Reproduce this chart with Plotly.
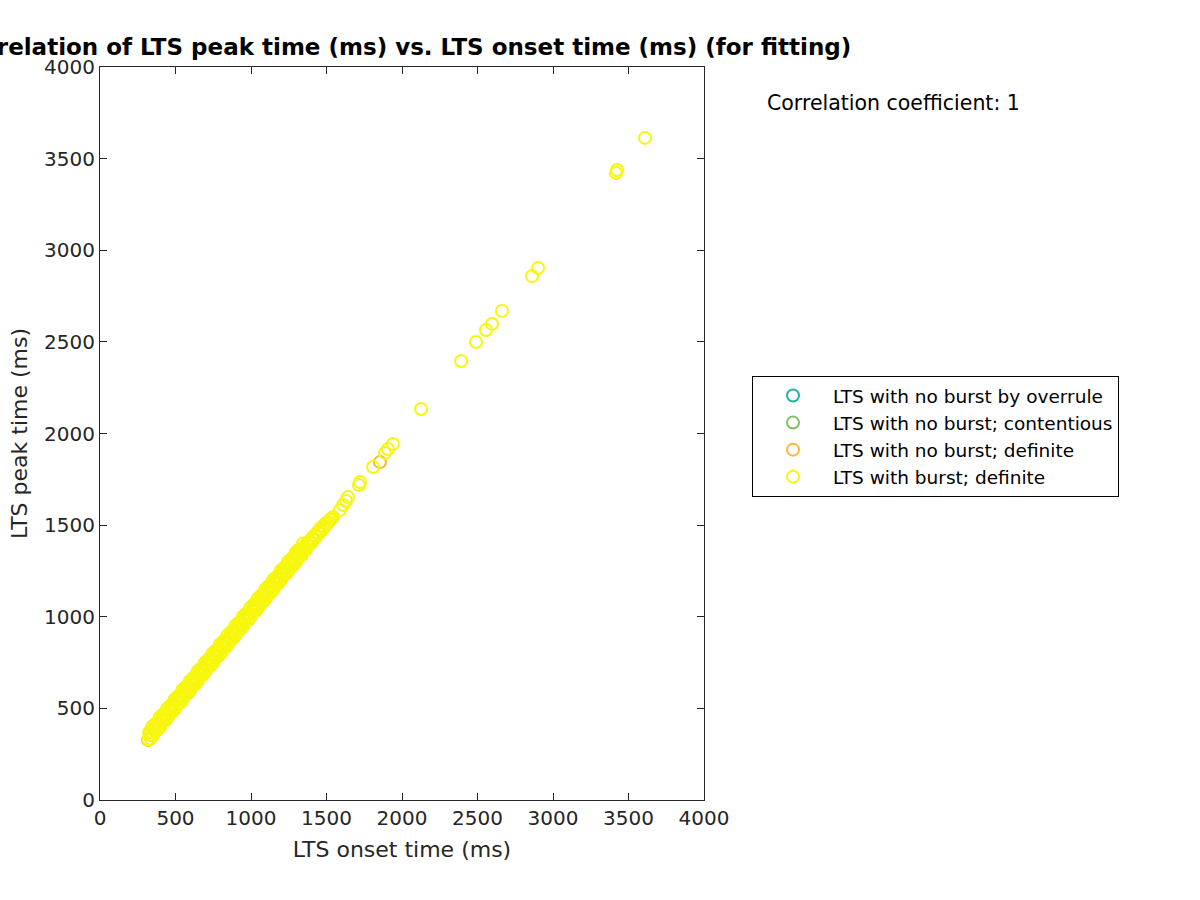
import plotly.graph_objects as go

# ---- data (dense band values are estimates) ----
burst_onset = [
    320, 325, 330, 335, 340, 345,
    350, 355, 360, 365, 370, 375, 380, 385, 390, 395,
    400, 405, 410, 415, 420, 425, 430, 435, 440, 445,
    450, 455, 460, 465, 470, 475, 480, 485, 490, 495,
    500, 505, 510, 515, 520, 525, 530, 535, 540, 545,
    550, 555, 560, 565, 570, 575, 580, 585, 590, 595,
    600, 605, 610, 615, 620, 625, 630, 635, 640, 645,
    650, 655, 660, 665, 670, 675, 680, 685, 690, 695,
    700, 705, 710, 715, 720, 725, 730, 735, 740, 745,
    750, 755, 760, 765, 770, 775, 780, 785, 790, 795,
    800, 805, 810, 815, 820, 825, 830, 835, 840, 845,
    850, 855, 860, 865, 870, 875, 880, 885, 890, 895,
    900, 905, 910, 915, 920, 925, 930, 935, 940, 945,
    950, 955, 960, 965, 970, 975, 980, 985, 990, 995,
    1000, 1005, 1010, 1015, 1020, 1025, 1030, 1035, 1040, 1045,
    1050, 1055, 1060, 1065, 1070, 1075, 1080, 1085, 1090, 1095,
    1100, 1105, 1110, 1115, 1120, 1125, 1130, 1135, 1140, 1145,
    1150, 1155, 1160, 1165, 1170, 1175, 1180, 1185, 1190, 1195,
    1200, 1205, 1210, 1215, 1220, 1225, 1230, 1235, 1240, 1245,
    1250, 1255, 1260, 1265, 1270, 1275, 1280, 1285, 1290, 1295,
    1300, 1305, 1310, 1315, 1320, 1325, 1330, 1335, 1340, 1345,
    1352, 1361, 1370, 1378, 1387, 1396, 1404, 1413, 1422, 1431, 1440,
    1449, 1458, 1467, 1476, 1486, 1495, 1504, 1513, 1522, 1531, 1543,
    1589, 1609, 1629, 1642, 1715, 1722, 1808, 1887, 1907, 1940,
    2126, 2391, 2490, 2556, 2596, 2662, 2861, 2901, 3417, 3424, 3609,
]
burst_peak = [
    329, 368, 355, 335, 371, 400,
    352, 391, 377, 415, 379, 418, 405, 385, 421, 450,
    402, 441, 427, 465, 429, 468, 455, 435, 471, 500,
    452, 491, 477, 515, 479, 518, 505, 485, 521, 550,
    502, 541, 527, 565, 529, 568, 555, 535, 571, 600,
    552, 591, 577, 615, 579, 618, 605, 585, 621, 650,
    602, 641, 627, 665, 629, 668, 655, 635, 671, 700,
    652, 691, 677, 715, 679, 718, 705, 685, 721, 750,
    702, 741, 727, 765, 729, 768, 755, 735, 771, 800,
    752, 791, 777, 815, 779, 818, 805, 785, 821, 850,
    802, 841, 827, 865, 829, 868, 855, 835, 871, 900,
    852, 891, 877, 915, 879, 918, 905, 885, 921, 950,
    902, 941, 927, 965, 929, 968, 955, 935, 971, 1000,
    952, 991, 977, 1015, 979, 1018, 1005, 985, 1021, 1050,
    1002, 1041, 1027, 1065, 1029, 1068, 1055, 1035, 1071, 1100,
    1052, 1091, 1077, 1115, 1079, 1118, 1105, 1085, 1121, 1150,
    1102, 1141, 1127, 1165, 1129, 1168, 1155, 1135, 1171, 1200,
    1152, 1191, 1177, 1215, 1179, 1218, 1205, 1185, 1221, 1250,
    1202, 1241, 1227, 1265, 1229, 1268, 1255, 1235, 1271, 1300,
    1252, 1291, 1277, 1315, 1279, 1318, 1305, 1285, 1321, 1350,
    1302, 1341, 1327, 1365, 1329, 1368, 1355, 1335, 1371, 1400,
    1380, 1364, 1401, 1385, 1412, 1400, 1430, 1420, 1445, 1436, 1462,
    1455, 1480, 1470, 1494, 1490, 1510, 1507, 1517, 1530, 1533, 1544,
    1583, 1610, 1632, 1653, 1719, 1735, 1817, 1894, 1915, 1943,
    2134, 2396, 2499, 2565, 2598, 2669, 2859, 2903, 3422, 3438, 3613,
]

noburst_def_onset = [318, 1854]
noburst_def_peak = [327, 1844]

overrule_onset = [None]
overrule_peak = [None]
contentious_onset = [None]
contentious_peak = [None]

series_names = ["LTS with no burst by overrule", "LTS with no burst; contentious",
                "LTS with no burst; definite", "LTS with burst; definite"]
series_colors = ["#21B3A0", "#7FBF62", "#FDB832", "#F7F70E"]
tick_vals = [0, 500, 1000, 1500, 2000, 2500, 3000, 3500, 4000]

series_x = [overrule_onset, contentious_onset, noburst_def_onset, burst_onset]
series_y = [overrule_peak, contentious_peak, noburst_def_peak, burst_peak]

font_family = "DejaVu Sans"
axis_color = "#262626"

fig = go.Figure()
for name, col, xs, ys in zip(series_names, series_colors, series_x, series_y):
    fig.add_trace(go.Scatter(
        x=xs, y=ys, mode="markers", name=name,
        marker=dict(symbol="circle-open", size=12, color=col, line=dict(width=2, color=col)),
    ))

axis_common = dict(
    range=[0, 4000], tickvals=tick_vals, ticktext=[str(v) for v in tick_vals],
    showgrid=False, zeroline=False, showline=True, linecolor=axis_color, linewidth=1,
    mirror="ticks", ticks="inside", ticklen=7, tickcolor=axis_color,
    tickfont=dict(family=font_family, size=20, color=axis_color),
)

fig.update_layout(
    width=1200, height=900,
    paper_bgcolor="white", plot_bgcolor="white",
    margin=dict(l=100, r=496, t=67, b=100),
    title=dict(text="<b>Correlation of LTS peak time (ms) vs. LTS onset time (ms) (for fitting)</b>",
               x=402 / 1200, xanchor="center", y=1 - 47 / 900, yanchor="middle",
               font=dict(family=font_family, size=23, color="black")),
    xaxis=dict(**axis_common, title=dict(text="LTS onset time (ms)", standoff=12,
                                         font=dict(family=font_family, size=22, color=axis_color))),
    yaxis=dict(**axis_common, title=dict(text="LTS peak time (ms)", standoff=10,
                                         font=dict(family=font_family, size=22, color=axis_color))),
    legend=dict(x=(752 - 100) / 604, y=(800 - 376) / 733, xanchor="left", yanchor="top",
                bordercolor="black", borderwidth=1, bgcolor="white", itemwidth=70,
                font=dict(family=font_family, size=18.5, color="black"), tracegroupgap=0),
    showlegend=True,
    annotations=[dict(text="Correlation coefficient: 1", xref="paper", yref="paper",
                      x=(765 - 100) / 604, y=(800 - 103) / 733, xanchor="left", yanchor="middle",
                      showarrow=False, font=dict(family=font_family, size=20.5, color="black"))],
)

fig.write_html("out.html")
